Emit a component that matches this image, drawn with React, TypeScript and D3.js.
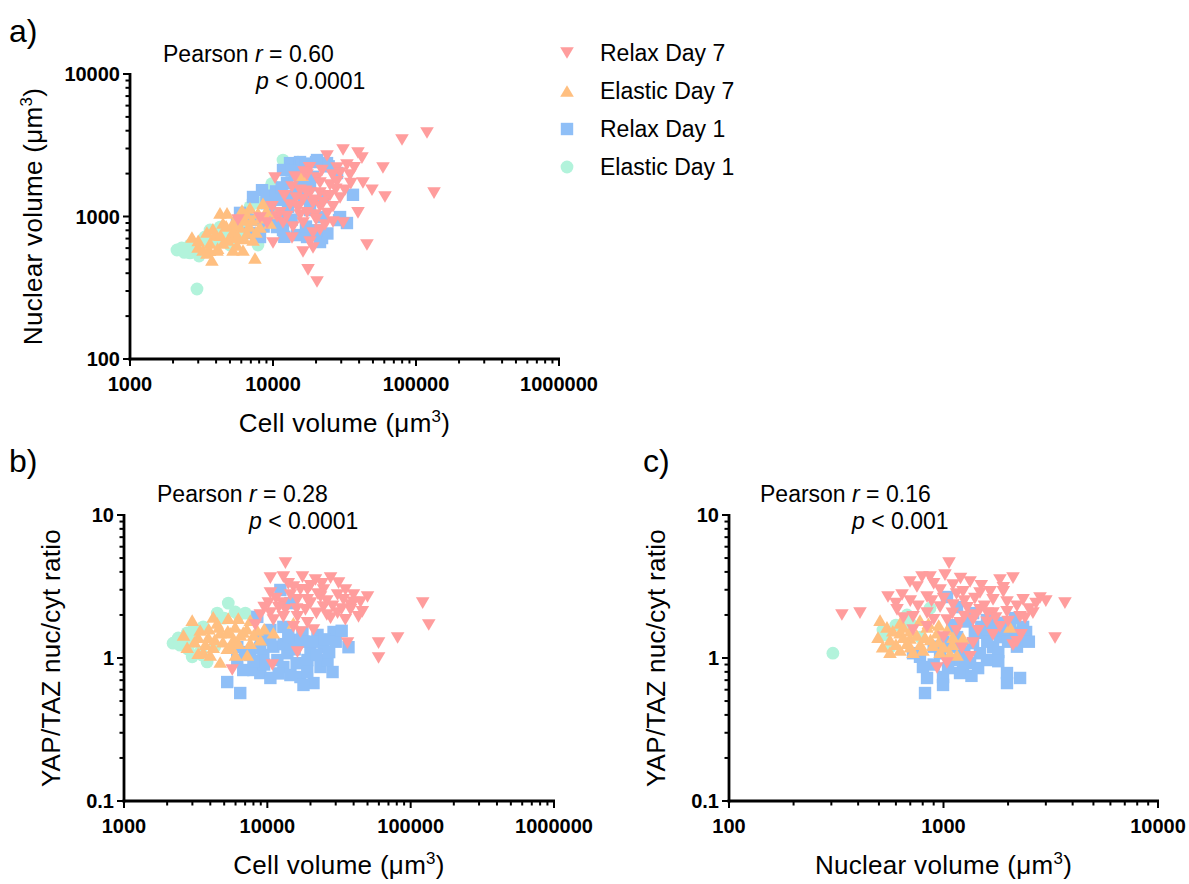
import React from "react";
import * as d3 from "d3";

const FONT = "'Liberation Sans', Arial, Helvetica, sans-serif";

const groups = ["Relax Day 7", "Elastic Day 7", "Relax Day 1", "Elastic Day 1"];
const groupColors = ["#FF9D9D", "#FFBF80", "#8FBFF7", "#B2F3DB"];
const groupShapes = ["triangleDown", "triangleUp", "square", "circle"];
const drawOrder = [3, 2, 1, 0];

// Panel a: cell volume (µm³) vs nuclear volume (µm³)
const aRelax7: [number, number][] = [
  [119400, 3855], [79800, 3440], [30900, 2930], [39290, 2790], [23860, 2660], [41880, 2570], [58750, 2190],
  [28050, 2190], [32890, 2300], [34550, 1950], [29440, 2020], [10330, 1860], [14250, 1890], [17300, 1950],
  [20320, 1860], [42560, 1720], [49230, 1530], [60670, 1370], [133700, 1460], [29440, 1350], [13580, 1610],
  [15450, 1530], [18150, 1460], [21320, 1460], [23860, 1370], [16220, 1310], [19050, 1240], [14720, 1170],
  [17300, 1060], [21320, 1170], [26290, 1170], [39290, 1060], [26290, 915], [30900, 900], [9840, 1170],
  [10670, 991], [9080, 900], [11750, 900], [13800, 843], [16220, 900], [21320, 804], [19050, 766], [5690, 944],
  [8110, 976], [10000, 652], [18150, 662], [19050, 601], [13580, 706], [16220, 564], [45390, 631], [17580, 422],
  [20320, 347], [11190, 1060], [13150, 1205], [15450, 1025], [19660, 1025], [23110, 872], [21320, 1720],
  [25050, 1660], [31850, 1530], [12000, 1400], [14500, 1350], [17000, 1500], [19500, 1300], [22500, 1250],
  [25000, 1400], [27500, 1550], [24000, 1050], [20000, 950], [15000, 1150], [12500, 1000], [28000, 1750],
  [35000, 1700], [37000, 2200], [26000, 1950], [22000, 2100], [18000, 2200], [16500, 2050],
];
const aElastic7: [number, number][] = [
  [2710, 718], [3450, 778], [4260, 1060], [4770, 1060], [6070, 1110], [6900, 1150], [8510, 1240], [7850, 1060],
  [2990, 611], [3450, 555], [3740, 495], [4060, 582], [4470, 652], [5000, 718], [5880, 843], [6580, 766],
  [7250, 684], [6170, 582], [7480, 512], [5250, 582], [3930, 741], [4470, 900], [5250, 900], [9530, 900],
  [8110, 843], [7130, 944], [15960, 1950], [3240, 582], [5600, 631], [6370, 944], [8790, 1025], [3630, 652],
  [4840, 684], [5510, 766], [3000, 680], [3800, 820], [4300, 740], [4700, 860], [5300, 800], [5800, 980],
  [6300, 700], [6800, 860], [7600, 780], [8200, 980], [9000, 1100], [4100, 600], [3600, 580], [5600, 720],
  [10500, 1050], [6500, 1050],
];
const aRelax1: [number, number][] = [
  [13150, 2370], [15450, 2410], [20320, 2490], [23860, 2370], [28050, 2020], [11750, 2120], [8380, 1530],
  [7250, 1370], [12530, 1720], [14720, 1530], [11190, 1310], [9080, 1240], [12740, 1170], [10000, 991],
  [11750, 804], [14720, 741], [17300, 718], [22030, 706], [29440, 991], [36240, 1420], [5880, 1060], [5600, 900],
  [6900, 766], [8110, 718], [32890, 900], [18150, 1110], [22030, 991], [22390, 1370], [15960, 2300],
  [20000, 2410], [21320, 662], [28970, 944], [10160, 1370], [14250, 1950], [18150, 1660], [9530, 1170],
  [10670, 843], [13500, 2100], [17000, 2350], [24500, 2250], [9000, 1400], [10500, 1500], [11500, 1600],
  [15500, 1800], [19000, 1900], [13000, 1400], [16500, 1350], [11000, 1050], [13500, 950], [17000, 850],
  [24000, 760], [9500, 1000], [7800, 950], [6500, 1000], [8600, 850], [12000, 720], [20000, 800],
];
const aElastic1: [number, number][] = [
  [2130, 582], [2300, 601], [2630, 555], [3040, 528], [2940, 310], [3340, 718], [3630, 804], [4260, 843],
  [5880, 718], [7850, 631], [7250, 1310], [9230, 1530], [12130, 2220], [14950, 2410], [6900, 1170], [8110, 1240],
  [11750, 2490], [2630, 631], [3930, 684], [5000, 631], [2400, 560], [2800, 600], [3400, 650], [4500, 780],
  [6000, 900], [9800, 1700], [13000, 2300], [4800, 700],
];

// Panel b: cell volume (µm³) vs YAP/TAZ nuc/cyt ratio
const bRelax7: [number, number][] = [
  [13370, 4.61], [10500, 3.62], [12940, 3.68], [17580, 3.68], [21670, 3.51], [27610, 3.62], [31400, 3.34],
  [39900, 2.76], [50000, 2.67], [44670, 2.46], [10500, 2.85], [15200, 3.14], [19050, 2.99], [24660, 2.99],
  [33990, 2.55], [38020, 2.35], [10160, 2.42], [12740, 2.42], [16220, 2.55], [20000, 2.42], [24660, 2.27],
  [30900, 2.06], [38020, 2.17], [43250, 1.94], [27610, 1.9], [16220, 1.94], [12940, 1.94], [10500, 2.06],
  [8930, 2.0], [8240, 1.7], [11020, 1.84], [19050, 1.76], [20990, 1.57], [15200, 1.65], [121300, 2.42],
  [133700, 1.7], [81100, 1.38], [59700, 1.27], [59700, 1.0], [36240, 1.27], [16220, 1.1], [10840, 0.894],
  [5690, 0.824], [14490, 2.76], [23500, 2.67], [30900, 2.76], [18450, 2.17], [13370, 2.17], [35080, 2.99],
  [17020, 1.52], [11500, 2.6], [14000, 3.3], [17000, 3.0], [20000, 3.2], [22500, 2.8], [26000, 2.5],
  [28500, 2.3], [33000, 2.2], [40000, 2.45], [46000, 2.1], [12000, 2.25], [16000, 2.2], [22000, 2.05],
  [26000, 2.0], [35000, 1.85], [9500, 2.25], [19000, 2.55], [24000, 3.3],
];
const bElastic7: [number, number][] = [
  [2990, 1.84], [2760, 1.19], [3290, 1.4], [3290, 1.08], [4190, 1.94], [5340, 1.9], [6270, 1.9], [7600, 1.84],
  [3870, 1.4], [4690, 1.5], [5510, 1.5], [6790, 1.52], [8510, 1.57], [4190, 1.19], [5250, 1.17], [6270, 1.27],
  [7600, 1.27], [8930, 1.34], [4690, 0.938], [7250, 1.05], [3570, 1.1], [11020, 1.5], [15200, 1.76],
  [4470, 1.76], [5780, 1.34], [3400, 1.57], [5970, 1.65], [3100, 1.3], [3700, 1.25], [4300, 1.35], [4900, 1.3],
  [5600, 1.2], [6500, 1.45], [7200, 1.6], [8000, 1.45], [3900, 1.6], [4600, 1.65], [5300, 1.55], [9500, 1.6],
  [2600, 1.45], [4000, 1.05], [6000, 1.05],
];
const bRelax1: [number, number][] = [
  [12330, 2.99], [14490, 2.42], [8510, 1.94], [10500, 1.57], [12940, 1.65], [17580, 1.5], [22390, 1.45],
  [28970, 1.52], [36830, 1.19], [24660, 1.19], [20000, 1.14], [19050, 0.968], [13800, 1.08], [11750, 0.968],
  [9380, 1.05], [7600, 1.05], [6170, 0.968], [6790, 0.824], [8930, 0.785], [12940, 0.865], [10500, 0.725],
  [5250, 0.679], [6470, 0.569], [14490, 0.76], [17020, 0.736], [20990, 0.668], [17870, 0.648], [23500, 0.865],
  [28510, 0.798], [26290, 0.968], [7980, 0.824], [10500, 1.34], [15200, 1.34], [8930, 1.17], [6170, 1.19],
  [9000, 1.4], [11000, 1.2], [13000, 1.25], [15500, 1.15], [18000, 1.3], [21000, 1.3], [25000, 1.35],
  [30000, 1.3], [33000, 1.55], [9500, 0.9], [12000, 0.78], [16000, 0.92], [22000, 1.05], [27000, 1.1],
  [8000, 0.95], [7000, 1.1], [14000, 1.45], [19000, 0.8],
];
const bElastic1: [number, number][] = [
  [5340, 2.42], [2390, 1.38], [2760, 1.5], [2200, 1.27], [3040, 1.57], [3570, 1.65], [3800, 0.938], [4470, 2.06],
  [5970, 2.1], [7020, 2.06], [2990, 1.02], [3400, 1.1], [2460, 1.23], [2600, 1.35], [2300, 1.3], [3000, 1.3],
  [5000, 1.9], [6300, 2.0], [4300, 1.2], [3500, 1.05], [2800, 1.15],
];

// Panel c: nuclear volume (µm³) vs YAP/TAZ nuc/cyt ratio
const cRelax7: [number, number][] = [
  [1061, 4.61], [336, 2.0], [408, 2.06], [551, 2.67], [698, 3.4], [794, 3.68], [865, 3.68], [1016, 3.8],
  [1330, 3.4], [1833, 3.51], [2109, 3.62], [2818, 2.63], [3683, 2.42], [3311, 1.38], [607, 2.17], [641, 2.76],
  [752, 3.14], [838, 2.67], [964, 2.99], [1107, 3.24], [1233, 2.9], [1479, 2.85], [1702, 2.55], [1977, 2.46],
  [2350, 2.55], [2612, 2.06], [721, 1.94], [838, 2.06], [964, 2.27], [1107, 2.35], [1288, 2.24], [1479, 2.17],
  [1702, 2.06], [1977, 2.1], [2275, 1.94], [1038, 1.84], [1194, 1.76], [1374, 1.84], [1595, 1.78], [1833, 1.65],
  [838, 1.65], [721, 1.57], [1374, 1.27], [2109, 1.23], [1219, 1.17], [1330, 1.02], [933, 0.851], [1038, 0.923],
  [760, 2.3], [880, 2.5], [1000, 2.6], [1150, 2.8], [1250, 2.5], [1400, 2.6], [1550, 2.3], [1650, 2.9],
  [1900, 2.9], [2200, 2.3], [2500, 2.2], [2700, 2.4], [3000, 2.5], [1100, 2.05], [1250, 1.95], [1400, 2.0],
  [1600, 2.05], [1750, 1.9], [2000, 1.8], [2400, 1.9], [900, 1.85], [1150, 1.55], [1450, 1.55], [1700, 1.45],
  [650, 1.9], [1000, 1.4], [2200, 1.3], [1900, 3.1], [1500, 3.2], [1200, 3.6], [900, 3.3], [700, 2.5],
  [600, 2.4], [2300, 1.45],
];
const cElastic7: [number, number][] = [
  [506, 1.84], [495, 1.4], [563, 1.1], [545, 1.65], [627, 1.76], [627, 1.5], [698, 1.38], [777, 1.84],
  [838, 1.65], [933, 1.5], [1038, 1.57], [1107, 1.4], [893, 1.23], [802, 1.14], [721, 1.1], [627, 1.14],
  [964, 1.1], [1072, 1.08], [1233, 1.38], [2042, 1.65], [563, 1.34], [676, 1.27], [1156, 1.05], [580, 1.55],
  [650, 1.65], [700, 1.55], [750, 1.45], [820, 1.4], [870, 1.35], [950, 1.3], [1000, 1.2], [780, 1.25],
  [700, 1.2], [600, 1.25], [520, 1.2], [850, 1.75], [950, 1.7], [1100, 1.25], [650, 1.4],
];
const cRelax1: [number, number][] = [
  [1038, 2.67], [1156, 2.27], [1374, 2.06], [1595, 1.84], [1833, 1.76], [2042, 1.65], [2350, 1.65], [2399, 1.34],
  [2109, 1.5], [1833, 1.4], [1595, 1.5], [1702, 1.19], [1479, 1.08], [1330, 0.923], [1194, 0.785], [995, 0.736],
  [838, 0.725], [820, 0.569], [995, 0.648], [1233, 0.865], [1977, 0.785], [1977, 0.668], [2275, 0.725],
  [1374, 1.27], [1107, 0.968], [964, 1.08], [777, 1.02], [721, 1.08], [802, 0.865], [1595, 0.968], [1156, 1.4],
  [2427, 1.52], [900, 1.2], [1000, 1.3], [1100, 1.2], [1250, 1.1], [1400, 1.5], [1500, 1.65], [1700, 1.7],
  [1900, 1.55], [2000, 1.3], [2200, 1.2], [1100, 1.7], [1300, 1.8], [1600, 1.3], [1800, 1.1], [900, 0.9],
  [1050, 0.85], [1350, 0.75], [1450, 0.85], [1200, 1.05], [2150, 1.9], [2500, 1.3], [1800, 0.95],
];
const cElastic1: [number, number][] = [
  [305, 1.08], [676, 2.0], [522, 1.57], [563, 1.19], [865, 2.23], [2109, 1.38], [2399, 1.52], [534, 1.45],
  [700, 1.75], [780, 1.4], [600, 1.7], [2300, 1.6],
];

const panelAData = [aRelax7, aElastic7, aRelax1, aElastic1];
const panelBData = [bRelax7, bElastic7, bRelax1, bElastic1];
const panelCData = [cRelax7, cElastic7, cRelax1, cElastic1];

const cellDomain = [1000, 1000000];
const nuclearDomainA = [100, 10000];
const nuclearDomainC = [100, 10000];
const ratioDomain = [0.1, 10];

const stats = [
  { r: "0.60", p: "0.0001" },
  { r: "0.28", p: "0.0001" },
  { r: "0.16", p: "0.001" },
];

function isPow10(t: number) {
  const l = Math.log10(t);
  return Math.abs(l - Math.round(l)) < 1e-6;
}
function fmt(t: number) {
  return String(+t.toPrecision(6));
}

function Marker({ shape, cx, cy, color }: { shape: string; cx: number; cy: number; color: string }) {
  const w = 6.8, h = 5.8, s = 6.2;
  if (shape === "circle") return <circle cx={cx} cy={cy} r={6.4} fill={color} />;
  if (shape === "square") return <rect x={cx - s} y={cy - s} width={2 * s} height={2 * s} fill={color} />;
  if (shape === "triangleUp")
    return <path d={`M${cx - w},${cy + h}L${cx + w},${cy + h}L${cx},${cy - h}Z`} fill={color} />;
  return <path d={`M${cx - w},${cy - h}L${cx + w},${cy - h}L${cx},${cy + h}Z`} fill={color} />;
}

function XAxis({ scale, y }: { scale: any; y: number }) {
  const [r0, r1] = scale.range();
  const ticks: number[] = scale.ticks();
  return (
    <g>
      <line x1={r0 - 1.4} x2={r1 + 1} y1={y} y2={y} stroke="#000" strokeWidth={2.8} />
      {ticks.map((t) => {
        const major = isPow10(t);
        const x = scale(t);
        return <line key={t} x1={x} x2={x} y1={y} y2={y + (major ? 7 : 4.5)} stroke="#000" strokeWidth={2} />;
      })}
      {ticks.filter(isPow10).map((t) => (
        <text key={"l" + t} x={scale(t)} y={y + 32} textAnchor="middle" fontSize={20} fontWeight="bold" fontFamily={FONT}>
          {fmt(t)}
        </text>
      ))}
    </g>
  );
}

function YAxis({ scale, x }: { scale: any; x: number }) {
  const [r0, r1] = scale.range();
  const ticks: number[] = scale.ticks();
  return (
    <g>
      <line x1={x} x2={x} y1={r0 + 1.4} y2={r1 - 1} stroke="#000" strokeWidth={2.8} />
      {ticks.map((t) => {
        const major = isPow10(t);
        const y = scale(t);
        return <line key={t} x1={x} x2={x - (major ? 7 : 4.5)} y1={y} y2={y} stroke="#000" strokeWidth={2} />;
      })}
      {ticks.filter(isPow10).map((t) => (
        <text key={"l" + t} x={x - 10} y={scale(t)} dy="0.36em" textAnchor="end" fontSize={20} fontWeight="bold" fontFamily={FONT}>
          {fmt(t)}
        </text>
      ))}
    </g>
  );
}

function Unit() {
  return (
    <>
      {"(μm"}
      <tspan fontSize="0.65em" dy={-10}>3</tspan>
      <tspan dy={10}>)</tspan>
    </>
  );
}

function Panel({
  xScale, yScale, data, letter, letterX, letterY, statX, statY, pX, stat, xTitle, yTitle, yTitleX, unitY,
}: any) {
  const [x0, x1] = xScale.range();
  const [y0, y1] = yScale.range();
  const cx = (x0 + x1) / 2;
  const cy = (y0 + y1) / 2;
  return (
    <g fontFamily={FONT}>
      <text x={letterX} y={letterY} fontSize={32}>{letter}</text>
      <text x={statX} y={statY} fontSize={23}>
        {"Pearson "}<tspan fontStyle="italic">r</tspan>{" = " + stat.r}
      </text>
      <text x={pX} y={statY + 27} fontSize={23}>
        <tspan fontStyle="italic">p</tspan>{" < " + stat.p}
      </text>
      {drawOrder.map((gi) => (
        <g key={gi}>
          {data[gi].map((d: [number, number], i: number) => (
            <Marker key={i} shape={groupShapes[gi]} cx={xScale(d[0])} cy={yScale(d[1])} color={groupColors[gi]} />
          ))}
        </g>
      ))}
      <XAxis scale={xScale} y={y0} />
      <YAxis scale={yScale} x={x0} />
      <text x={cx} y={y0 + 73} textAnchor="middle" fontSize={26} letterSpacing={0.3}>
        {xTitle} <Unit />
      </text>
      <text
        transform={`translate(${yTitleX},${cy}) rotate(-90)`}
        textAnchor="middle"
        fontSize={26}
        letterSpacing={0.3}
      >
        {yTitle}
        {unitY ? <>{" "}<Unit /></> : null}
      </text>
    </g>
  );
}

export default function App() {
  const xA = d3.scaleLog().domain(cellDomain).range([130, 559]);
  const yA = d3.scaleLog().domain(nuclearDomainA).range([359, 74]);
  const xB = d3.scaleLog().domain(cellDomain).range([124, 554]);
  const yB = d3.scaleLog().domain(ratioDomain).range([801, 515]);
  const xC = d3.scaleLog().domain(nuclearDomainC).range([729, 1158]);
  const yC = d3.scaleLog().domain(ratioDomain).range([801, 515]);

  const legendY = d3.scalePoint<number>().domain([0, 1, 2, 3]).range([53, 167]);

  return (
    <svg
      width={1189}
      height={884}
      style={{ position: "absolute", left: 0, top: 0, background: "#fff" }}
    >
      <Panel
        xScale={xA} yScale={yA} data={panelAData} letter="a)" letterX={9} letterY={42}
        statX={163} statY={62} pX={256} stat={stats[0]}
        xTitle="Cell volume" yTitle="Nuclear volume" yTitleX={42} unitY
      />
      <Panel
        xScale={xB} yScale={yB} data={panelBData} letter="b)" letterX={9} letterY={472}
        statX={157} statY={502} pX={249} stat={stats[1]}
        xTitle="Cell volume" yTitle="YAP/TAZ nuc/cyt ratio" yTitleX={60}
      />
      <Panel
        xScale={xC} yScale={yC} data={panelCData} letter="c)" letterX={643} letterY={472}
        statX={760} statY={502} pX={852} stat={stats[2]}
        xTitle="Nuclear volume" yTitle="YAP/TAZ nuc/cyt ratio" yTitleX={665}
      />
      <g fontFamily={FONT}>
        {groups.map((g, i) => (
          <g key={g}>
            <Marker shape={groupShapes[i]} cx={567} cy={legendY(i)!} color={groupColors[i]} />
            <text x={600} y={legendY(i)!} dy="0.36em" fontSize={23}>{g}</text>
          </g>
        ))}
      </g>
    </svg>
  );
}
